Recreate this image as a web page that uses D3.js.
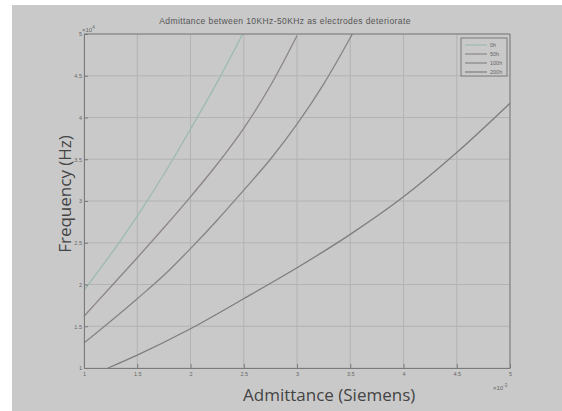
<!DOCTYPE html>
<html>
<head>
<meta charset="utf-8">
<script src="https://cdn.jsdelivr.net/npm/d3@7"></script>
<style>
  body { margin: 0; background: #fff; }
  svg { display: block; }
</style>
</head>
<body>
<svg id="chart"></svg>
<script>
const width = 562, height = 411;
const margin = {top: 34, right: 52, bottom: 43, left: 84};

// admittance in units of 1e-3 S, frequency in units of 1e4 Hz
const seriesNames = ["0h", "50h", "100h", "200h"];
const admit0 = [1.0, 1.25, 1.5, 1.75, 2.0, 2.25, 2.49];
const freq0 = [1.93, 2.36, 2.82, 3.32, 3.86, 4.42, 5.0];
const admit50 = [1.0, 1.25, 1.5, 1.75, 2.0, 2.25, 2.5, 2.75, 3.0];
const freq50 = [1.62, 1.97, 2.32, 2.68, 3.05, 3.44, 3.87, 4.38, 4.98];
const admit100 = [1.0, 1.25, 1.5, 1.75, 2.0, 2.25, 2.5, 2.75, 3.0, 3.25, 3.52];
const freq100 = [1.30, 1.56, 1.83, 2.11, 2.43, 2.77, 3.13, 3.5, 3.92, 4.4, 5.0];
const admit200 = [1.225, 1.5, 2.0, 2.5, 3.0, 3.5, 4.0, 4.5, 5.0];
const freq200 = [1.0, 1.155, 1.47, 1.83, 2.2, 2.6, 3.05, 3.58, 4.17];
const seriesColors = ["#9dbab3", "#8d8587", "#868384", "#7e7e7e"];

const xTicks = [1, 1.5, 2, 2.5, 3, 3.5, 4, 4.5, 5];
const yTicks = [1, 1.5, 2, 2.5, 3, 3.5, 4, 4.5, 5];

const series = [
  [admit0, freq0], [admit50, freq50], [admit100, freq100], [admit200, freq200]
].map(([xs, ys], i) => ({name: seriesNames[i], color: seriesColors[i],
  points: xs.map((x, j) => [x, ys[j]])}));

const svg = d3.select("#chart").attr("width", width).attr("height", height);

// figure background
svg.append("rect").attr("x", 12).attr("y", 5)
  .attr("width", width - 12).attr("height", height - 5)
  .attr("fill", "#c9c9c9");

const x = d3.scaleLinear().domain([1, 5]).range([margin.left, width - margin.right]);
const y = d3.scaleLinear().domain([1, 5]).range([height - margin.bottom, margin.top]);

// grid
const grid = svg.append("g").attr("stroke", "#b3b3b3").attr("stroke-width", 1);
grid.selectAll(".gx").data(xTicks).join("line")
  .attr("x1", d => x(d)).attr("x2", d => x(d))
  .attr("y1", margin.top).attr("y2", height - margin.bottom);
grid.selectAll(".gy").data(yTicks).join("line")
  .attr("y1", d => y(d)).attr("y2", d => y(d))
  .attr("x1", margin.left).attr("x2", width - margin.right);

// lines
const line = d3.line().x(d => x(d[0])).y(d => y(d[1])).curve(d3.curveMonotoneX);
svg.append("g").attr("fill", "none").attr("stroke-width", 1.3)
  .selectAll("path").data(series).join("path")
  .attr("stroke", d => d.color)
  .attr("d", d => line(d.points));

// axes
const fmt = d => String(d);
const xAxis = svg.append("g").attr("transform", `translate(0,${height - margin.bottom})`)
  .call(d3.axisBottom(x).tickValues(xTicks).tickFormat(fmt).tickSizeInner(-4).tickSizeOuter(0).tickPadding(4));
const yAxis = svg.append("g").attr("transform", `translate(${margin.left},0)`)
  .call(d3.axisLeft(y).tickValues(yTicks).tickFormat(fmt).tickSizeInner(-4).tickSizeOuter(0).tickPadding(2));
[xAxis, yAxis].forEach(g => {
  g.select(".domain").attr("stroke", "#7a7a7a");
  g.selectAll(".tick line").attr("stroke", "#7a7a7a");
  g.selectAll("text").attr("fill", "#666").style("font-size", "5.5px")
    .style("font-family", "Liberation Sans, Arial, sans-serif");
});

// top and right box edges
svg.append("line").attr("x1", margin.left).attr("x2", width - margin.right)
  .attr("y1", margin.top).attr("y2", margin.top).attr("stroke", "#7a7a7a");
svg.append("line").attr("x1", width - margin.right).attr("x2", width - margin.right)
  .attr("y1", margin.top).attr("y2", height - margin.bottom).attr("stroke", "#7a7a7a");

// exponents
const expo = svg.append("g").attr("fill", "#666")
  .style("font-family", "Liberation Sans, Arial, sans-serif").style("font-size", "6px");
expo.append("text").attr("x", margin.left - 2).attr("y", margin.top - 2)
  .text("×10").append("tspan").attr("dy", -3).style("font-size", "4.5px").text("4");
expo.append("text").attr("x", width - margin.right - 17).attr("y", height - margin.bottom + 22)
  .text("×10").append("tspan").attr("dy", -3).style("font-size", "4.5px").text("-3");

// title and labels
svg.append("text").attr("x", 285).attr("y", 24)
  .attr("text-anchor", "middle").attr("fill", "#555")
  .style("font-family", "Liberation Sans, Arial, sans-serif").style("font-size", "8.5px")
  .style("letter-spacing", "0.4px")
  .text("Admittance between 10KHz-50KHz as electrodes deteriorate");
svg.append("text").attr("x", 243).attr("y", 401)
  .attr("text-anchor", "start").attr("fill", "#444")
  .style("font-family", "Open Sans, sans-serif").style("font-size", "17px")
  .text("Admittance (Siemens)");
svg.append("text").attr("transform", "translate(71,194) rotate(-90)")
  .attr("text-anchor", "middle").attr("fill", "#444")
  .style("font-family", "Open Sans, sans-serif").style("font-size", "17px")
  .text("Frequency (Hz)");

// legend
const lg = svg.append("g").attr("transform", `translate(${width - margin.right - 49},${margin.top + 4})`);
lg.append("rect").attr("width", 46).attr("height", 38)
  .attr("fill", "#c9c9c9").attr("stroke", "#7a7a7a");
const items = lg.selectAll("g").data(series).join("g")
  .attr("transform", (d, i) => `translate(0,${7 + i * 9})`);
items.append("line").attr("x1", 4).attr("x2", 26)
  .attr("stroke", d => d.color).attr("stroke-width", 1.2);
items.append("text").attr("x", 29).attr("y", 2).attr("fill", "#666")
  .style("font-family", "Liberation Sans, Arial, sans-serif").style("font-size", "5.5px")
  .text(d => d.name);
</script>
</body>
</html>
